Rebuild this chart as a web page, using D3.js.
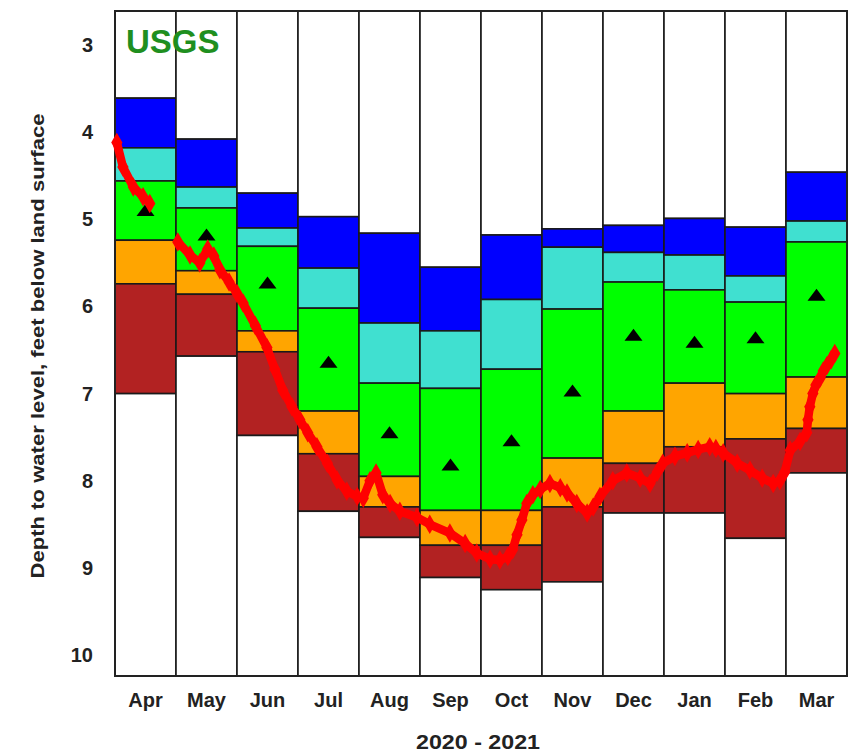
<!DOCTYPE html>
<html>
<head>
<meta charset="utf-8">
<script src="https://cdn.jsdelivr.net/npm/d3@7"></script>
<style>
  body { margin: 0; background: #fff; }
  svg { display: block; font-family: "Liberation Sans", Arial, sans-serif; }
</style>
</head>
<body>
<div id="chart"></div>
<script>
// month columns, water year 2020 - 2021
const months = ["Apr", "May", "Jun", "Jul", "Aug", "Sep", "Oct", "Nov", "Dec", "Jan", "Feb", "Mar"];

// percentile bounds per month (depth, feet below land surface)
const maxLevel = [3.61, 4.08, 4.70, 4.97, 5.16, 5.55, 5.18, 5.11, 5.07, 4.99, 5.09, 4.46];
const p90 = [4.18, 4.63, 5.10, 5.56, 6.19, 6.28, 5.92, 5.32, 5.38, 5.41, 5.65, 5.02];
const p75 = [4.56, 4.87, 5.31, 6.02, 6.88, 6.94, 6.72, 6.03, 5.72, 5.81, 5.95, 5.26];
const p25 = [5.24, 5.59, 6.28, 7.20, 7.95, 8.34, 8.34, 7.74, 7.20, 6.88, 7.00, 6.81];
const p10 = [5.74, 5.86, 6.52, 7.69, 8.30, 8.74, 8.74, 8.30, 7.80, 7.61, 7.52, 7.40];
const minLevel = [7.00, 6.57, 7.48, 8.35, 8.65, 9.11, 9.25, 9.16, 8.37, 8.37, 8.66, 7.91];
const median = [4.90, 5.18, 5.73, 6.64, 7.45, 7.82, 7.54, 6.97, 6.33, 6.41, 6.36, 5.87];

const yTicks = [3, 4, 5, 6, 7, 8, 9, 10];

// observed water levels: position in months since Apr 1, depth
const obsApr = [
  [0.03, 4.12], [0.13, 4.40], [0.30, 4.63], [0.46, 4.74], [0.57, 4.82]
];
const obsMain = [
  [1.03, 5.26], [1.23, 5.41], [1.39, 5.50], [1.52, 5.34], [1.62, 5.42], [1.72, 5.58],
  [1.87, 5.72], [2.00, 5.85], [2.10, 5.96], [2.30, 6.22], [2.49, 6.47], [2.62, 6.72],
  [2.75, 6.96], [2.90, 7.15], [3.03, 7.30], [3.16, 7.45], [3.31, 7.61], [3.48, 7.80],
  [3.64, 7.99], [3.80, 8.12], [3.97, 8.18], [4.07, 8.20], [4.18, 8.00], [4.28, 7.91],
  [4.39, 8.16], [4.51, 8.26], [4.67, 8.35], [4.95, 8.42], [5.16, 8.50], [5.49, 8.60],
  [5.74, 8.72], [5.93, 8.83], [6.15, 8.90], [6.31, 8.91], [6.44, 8.87], [6.52, 8.79],
  [6.59, 8.62], [6.67, 8.45], [6.75, 8.26], [6.85, 8.16], [6.97, 8.10], [7.13, 8.03],
  [7.30, 8.08], [7.41, 8.14], [7.57, 8.26], [7.74, 8.37], [7.84, 8.30], [7.95, 8.18],
  [8.16, 8.00], [8.39, 7.91], [8.61, 7.97], [8.77, 8.03], [8.89, 7.90], [8.98, 7.80],
  [9.18, 7.72], [9.38, 7.68], [9.56, 7.64], [9.75, 7.61], [9.85, 7.63], [9.97, 7.68],
  [10.20, 7.80], [10.41, 7.88], [10.61, 7.97], [10.79, 8.03], [10.90, 8.00], [10.98, 7.90],
  [11.07, 7.65], [11.23, 7.55], [11.34, 7.45], [11.36, 7.30], [11.39, 7.15], [11.44, 7.00],
  [11.49, 6.90], [11.56, 6.82], [11.61, 6.74], [11.67, 6.68], [11.74, 6.61], [11.80, 6.54]
];

const svgWidth = 852;
const svgHeight = 756;
const margin = { top: 11, right: 5, bottom: 80, left: 115 };
const width = 847 - margin.left;
const height = 676 - margin.top;

const svg = d3.select("#chart")
  .append("svg")
  .attr("width", svgWidth)
  .attr("height", svgHeight);

const g = svg.append("g")
  .attr("transform", `translate(${margin.left},${margin.top})`);

const x = d3.scaleBand()
  .domain(months)
  .range([0, width])
  .padding(0);

const xPos = d3.scaleLinear()
  .domain([0, 12])
  .range([0, width]);

const y = d3.scaleLinear()
  .domain([2.61, 10.24])
  .range([0, height]);

const bands = [
  { top: i => 2.61, bottom: i => maxLevel[i], fill: "#ffffff" },
  { top: i => maxLevel[i], bottom: i => p90[i], fill: "#0000ff" },
  { top: i => p90[i], bottom: i => p75[i], fill: "#40e0d0" },
  { top: i => p75[i], bottom: i => p25[i], fill: "#00ff00" },
  { top: i => p25[i], bottom: i => p10[i], fill: "#ffa500" },
  { top: i => p10[i], bottom: i => minLevel[i], fill: "#b22222" },
  { top: i => minLevel[i], bottom: i => 10.24, fill: "#ffffff" }
];

months.forEach((m, i) => {
  const col = g.append("g").attr("class", "col");
  bands.forEach(b => {
    col.append("rect")
      .attr("x", x(m))
      .attr("y", y(b.top(i)))
      .attr("width", x.bandwidth())
      .attr("height", y(b.bottom(i)) - y(b.top(i)))
      .attr("fill", b.fill)
      .attr("stroke", "#1a1a1a")
      .attr("stroke-width", 1.6);
  });
});

// frame
g.append("rect")
  .attr("x", 0)
  .attr("y", 0)
  .attr("width", width)
  .attr("height", height)
  .attr("fill", "none")
  .attr("stroke", "#222")
  .attr("stroke-width", 2);

// median triangles
g.selectAll(".median")
  .data(median)
  .join("path")
  .attr("class", "median")
  .attr("d", "M0,-6.5L9,5.5L-9,5.5Z")
  .attr("transform", (d, i) => `translate(${x(months[i]) + x.bandwidth() / 2},${y(d)})`)
  .attr("fill", "#000");

// observed daily levels
const line = d3.line()
  .x(d => xPos(d[0]))
  .y(d => y(d[1]))
  .curve(d3.curveLinear);

[obsApr, obsMain].forEach(seg => {
  g.append("path")
    .datum(seg)
    .attr("d", line)
    .attr("fill", "none")
    .attr("stroke", "#ff0000")
    .attr("stroke-width", 8.5)
    .attr("stroke-linejoin", "round")
    .attr("stroke-linecap", "round");

  g.append("g")
    .selectAll("path")
    .data(seg)
    .join("path")
    .attr("d", d3.symbol().type(d3.symbolDiamond).size(110))
    .attr("transform", d => `translate(${xPos(d[0])},${y(d[1])})`)
    .attr("fill", "#ff0000");
});

// axes
const yAxis = g.append("g")
  .call(d3.axisLeft(y).tickValues(yTicks).tickSize(0).tickPadding(22).tickFormat(d3.format("d")));
yAxis.select(".domain").remove();
yAxis.selectAll("text")
  .attr("font-size", 20)
  .attr("font-weight", "bold")
  .attr("font-family", "'Liberation Sans', Arial, sans-serif")
  .attr("fill", "#222");

const xAxis = g.append("g")
  .attr("transform", `translate(0,${height})`)
  .call(d3.axisBottom(x).tickSize(0).tickPadding(17));
xAxis.select(".domain").remove();
xAxis.selectAll("text")
  .attr("font-size", 20)
  .attr("font-weight", "bold")
  .attr("font-family", "'Liberation Sans', Arial, sans-serif")
  .attr("fill", "#222");

// labels
svg.append("text")
  .attr("x", margin.left + width / 2 - 3)
  .attr("y", 749)
  .attr("text-anchor", "middle")
  .attr("font-size", 20)
  .attr("font-weight", "bold")
  .attr("textLength", 124)
  .attr("lengthAdjust", "spacingAndGlyphs")
  .attr("fill", "#222")
  .text("2020 - 2021");

svg.append("text")
  .attr("transform", "translate(44,346) rotate(-90)")
  .attr("text-anchor", "middle")
  .attr("font-size", 19)
  .attr("font-weight", "bold")
  .attr("textLength", 465)
  .attr("lengthAdjust", "spacingAndGlyphs")
  .attr("fill", "#222")
  .text("Depth to water level, feet below land surface");

svg.append("text")
  .attr("x", 126)
  .attr("y", 53)
  .attr("font-size", 33)
  .attr("font-weight", "bold")
  .attr("fill", "#1f8f1f")
  .text("USGS");
</script>
</body>
</html>
